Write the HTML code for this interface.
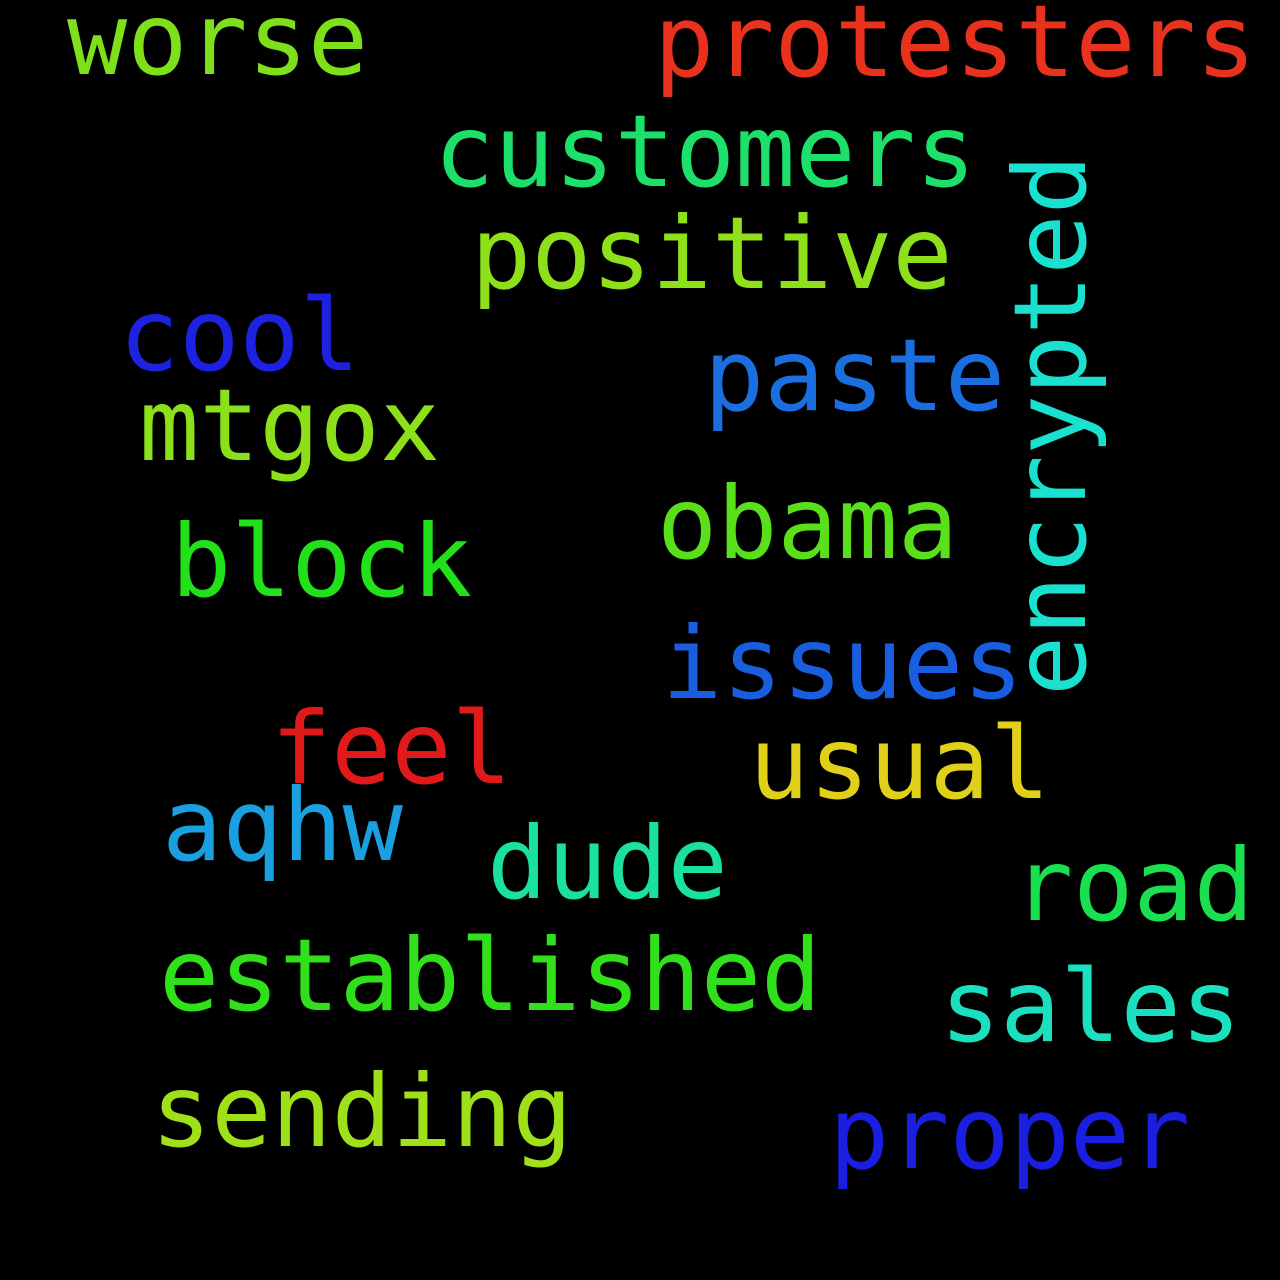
<!DOCTYPE html>
<html><head><meta charset="utf-8"><style>
html,body{margin:0;padding:0;background:#000;}
svg{display:block;}
text{font-family:"DejaVu Sans Mono","Liberation Mono",monospace;font-size:100px;}
</style></head><body>
<svg width="1280" height="1280" viewBox="0 0 1280 1280">
<rect width="1280" height="1280" fill="#000"/>
<text x="67" y="74" fill="#7ee01a">worse</text>
<text x="654" y="76" fill="#e8321e">protesters</text>
<text x="434" y="186" fill="#1de06a">customers</text>
<text x="471" y="288" fill="#8ee01a">positive</text>
<text x="119" y="370" fill="#1c22e0">cool</text>
<text x="704" y="410" fill="#1a6ee0">paste</text>
<text x="139" y="460" fill="#8ce01a">mtgox</text>
<text x="657" y="558" fill="#5ae01a">obama</text>
<text x="171" y="596" fill="#22e01a">block</text>
<text x="662" y="698" fill="#1a5ee0">issues</text>
<text x="271" y="783" fill="#e01a1a">feel</text>
<text x="749" y="798" fill="#e0d01a">usual</text>
<text x="162" y="860" fill="#1aa0e0">aqhw</text>
<text x="487" y="898" fill="#1ae0a0">dude</text>
<text x="1013" y="920" fill="#1ae050">road</text>
<text x="159" y="1010" fill="#30e01a">established</text>
<text x="940" y="1041" fill="#1ae0c0">sales</text>
<text x="151" y="1146" fill="#a0e01a">sending</text>
<text x="829" y="1168" fill="#1a1ee0">proper</text>
<text transform="translate(1085,696) rotate(-90)" x="0" y="0" fill="#1ae0d0">encrypted</text>
</svg>
</body></html>
